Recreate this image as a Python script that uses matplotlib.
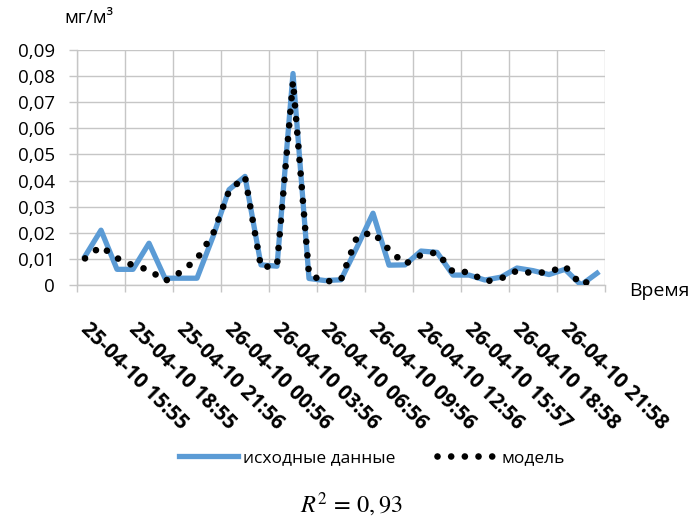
import numpy as np
import matplotlib
matplotlib.use("Agg")
import matplotlib.pyplot as plt
from matplotlib.transforms import ScaledTranslation

plt.rcParams['font.family'] = ['Open Sans', 'DejaVu Sans']
plt.rcParams['mathtext.fontset'] = 'stix'

# hourly concentration, mg/m3, 25-04-10 15:55 .. 26-04-10 23:58
source = [0.011, 0.021, 0.006, 0.006, 0.016, 0.0026, 0.0026, 0.0026, 0.0185,
          0.0365, 0.0416, 0.0077, 0.0072, 0.081, 0.0025, 0.0017, 0.002,
          0.0145, 0.0275, 0.0076, 0.0077, 0.013, 0.0125, 0.0038, 0.0038,
          0.0019, 0.003, 0.0065, 0.0055, 0.004, 0.006, 0.0, 0.0045]
model = [0.0102, 0.0148, 0.0103, 0.0075, 0.0058, 0.0015, 0.005, 0.010, 0.0195,
         0.036, 0.0415, 0.0068, 0.0074, 0.078, 0.004, 0.0013, 0.002,
         0.0185, 0.0202, 0.0135, 0.008, 0.0115, 0.0125, 0.005, 0.005,
         0.0013, 0.0025, 0.0055, 0.0045, 0.005, 0.0072, 0.0, 0.003]
tick_labels = ['25-04-10 15:55', '25-04-10 18:55', '25-04-10 21:56',
               '26-04-10 00:56', '26-04-10 03:56', '26-04-10 06:56',
               '26-04-10 09:56', '26-04-10 12:56', '26-04-10 15:57',
               '26-04-10 18:58', '26-04-10 21:58']
tick_step = 3
y_ticks = [0.0, 0.01, 0.02, 0.03, 0.04, 0.05, 0.06, 0.07, 0.08, 0.09]
y_labels = ['0', '0,01', '0,02', '0,03', '0,04', '0,05', '0,06', '0,07', '0,08', '0,09']

grid_col = '#C6C6C6'
fs = 13.5

fig = plt.figure(figsize=(6.93, 5.18), dpi=100)
W, H = 693.0, 518.0
ax = fig.add_axes([77 / W, 1 - 285 / H, (605 - 77) / W, (285 - 50) / H])

x = np.arange(len(source))
ax.plot(x, source, color='#5B9BD5', lw=3.8, solid_joinstyle='round',
        label='исходные данные', zorder=3)
ax.plot(x, model, color='black', lw=4.8, linestyle=(0, (0.001, 2.05)),
        dash_capstyle='round', label='модель', zorder=4)

ax.set_xlim(-0.5, len(source) - 0.5)
ax.set_ylim(0, 0.09)

# category labels every third hour, gridlines on the category boundaries
ax.set_xticks(np.arange(0, len(source), tick_step))
ax.set_xticklabels(tick_labels, fontsize=14.8, fontweight='bold')
ax.set_xticks(np.arange(-0.5, len(source), tick_step), minor=True)
ax.tick_params(axis='x', which='major', length=0, pad=24)
ax.tick_params(axis='x', which='minor', length=5, color=grid_col, width=1)
offset = ScaledTranslation(6 / 100, 0, fig.dpi_scale_trans)
for lbl in ax.get_xticklabels():
    lbl.set_rotation(-45)
    lbl.set_ha('left')
    lbl.set_va('top')
    lbl.set_rotation_mode('anchor')
    lbl.set_transform(lbl.get_transform() + offset)

ax.set_yticks(y_ticks)
ax.set_yticklabels(y_labels, fontsize=fs)
ax.tick_params(axis='y', length=6, color=grid_col, width=1, pad=10)

ax.grid(axis='x', which='minor', color=grid_col, lw=1)
ax.grid(axis='y', which='major', color=grid_col, lw=1)
ax.set_axisbelow(True)
for side in ['top', 'right']:
    ax.spines[side].set_visible(False)
for side in ['left', 'bottom']:
    ax.spines[side].set_color(grid_col)
    ax.spines[side].set_linewidth(1)

fig.text(64 / W, 1 - 18 / H, 'мг/м³', fontsize=fs, ha='left', va='center')
fig.text(629 / W, 1 - 291 / H, 'Время', fontsize=14, ha='left', va='center')

ax.legend(loc='center', bbox_to_anchor=(372 / W, 1 - 458 / H),
          bbox_transform=fig.transFigure, ncol=2, frameon=False,
          fontsize=12.5, handlelength=3.4, handletextpad=0.3, columnspacing=2.4)

fig.text(351 / W, 1 - 505 / H, r'$R^2 \,=\, 0,93$', fontsize=17.5,
         ha='center', va='center')

fig.savefig('out.png', dpi=100)
